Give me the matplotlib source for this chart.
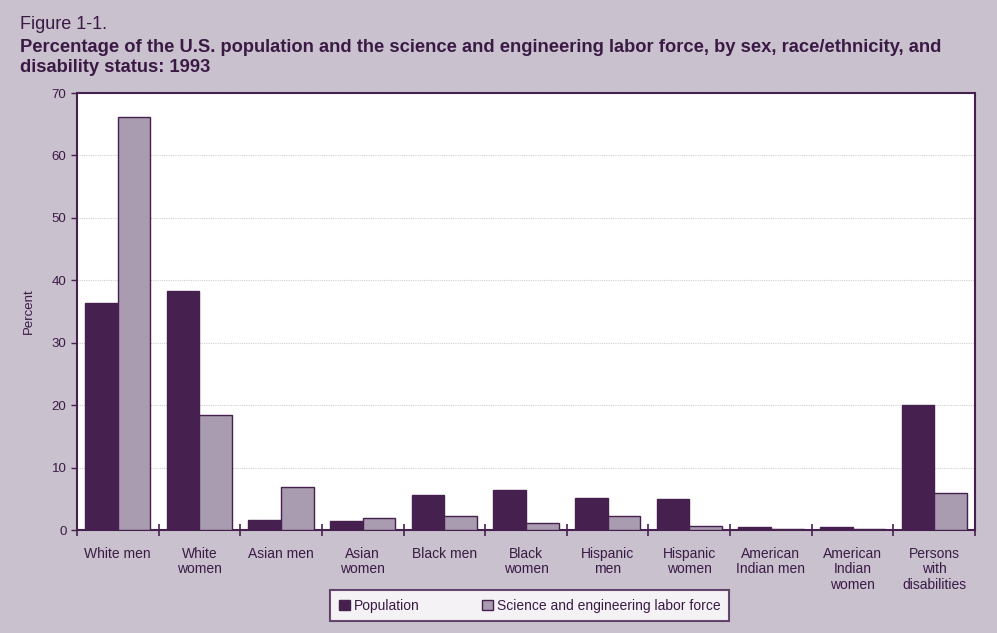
"""
Figure 1-1: share of the U.S. population and of the S&E labor force, 1993.
"""
import matplotlib
matplotlib.use("Agg")
import matplotlib.pyplot as plt
import numpy as np

categories = [
    "White men", "White\nwomen", "Asian men", "Asian\nwomen", "Black men",
    "Black\nwomen", "Hispanic\nmen", "Hispanic\nwomen", "American\nIndian men",
    "American\nIndian\nwomen", "Persons\nwith\ndisabilities",
]
population = [36.4, 38.3, 1.6, 1.5, 5.6, 6.4, 5.1, 4.9, 0.5, 0.5, 20.0]
se_labor_force = [66.2, 18.4, 6.9, 2.0, 2.2, 1.2, 2.2, 0.7, 0.2, 0.2, 5.9]
series_names = ["Population", "Science and engineering labor force"]
y_ticks = [0, 10, 20, 30, 40, 50, 60, 70]

BG = "#c9c1cd"
DARK = "#46204f"
LIGHT = "#a99cb0"
TEXT = "#3a1a45"

plt.rcParams["font.family"] = ["Liberation Sans", "DejaVu Sans"]

fig = plt.figure(figsize=(9.97, 6.33), dpi=100, facecolor=BG)
ax = fig.add_axes([0.0772, 0.1627, 0.9008, 0.6903])
ax.set_facecolor("white")

x = np.arange(len(categories))
w = 0.4
ax.bar(x - w / 2, population, w, color=DARK, edgecolor=DARK, linewidth=1,
       label=series_names[0], zorder=3)
ax.bar(x + w / 2, se_labor_force, w, color=LIGHT, edgecolor=DARK, linewidth=1,
       label=series_names[1], zorder=3)

ax.set_xlim(-0.5, len(categories) - 0.5)
ax.set_ylim(0, 70)
ax.set_yticks(y_ticks)
ax.yaxis.grid(True, color="#d0d0d0", linestyle=(0, (1, 1)), linewidth=0.8)
ax.set_axisbelow(True)

# category labels between the boundary ticks
ax.set_xticks(np.arange(len(categories) + 1) - 0.5)
ax.set_xticklabels([])
ax.set_xticks(x, minor=True)
ax.set_xticklabels(categories, minor=True, fontsize=10, color=TEXT,
                   linespacing=1.15, va="top")
ax.tick_params(axis="x", which="minor", length=0, pad=12)
ax.tick_params(axis="x", which="major", direction="inout", length=8,
               color=DARK, width=1.2)
ax.tick_params(axis="y", direction="out", length=4, color=DARK,
               labelsize=9.5, labelcolor=TEXT, width=1)

for s in ax.spines.values():
    s.set_color(DARK)
    s.set_linewidth(1.5)

ax.set_ylabel("Percent", fontsize=9.5, color=TEXT, labelpad=12)

fig.text(0.02, 0.962, "Figure 1-1.", fontsize=13, color=TEXT, va="center")
fig.text(0.02, 0.925,
         "Percentage of the U.S. population and the science and engineering "
         "labor force, by sex, race/ethnicity, and",
         fontsize=13.2, fontweight="bold", color=TEXT, va="center")
fig.text(0.02, 0.893, "disability status: 1993",
         fontsize=13.2, fontweight="bold", color=TEXT, va="center")

leg = fig.legend(loc="center", bbox_to_anchor=(0.5315, 0.043), ncol=2,
                 fontsize=10, frameon=True, fancybox=False,
                 handlelength=0.8, handleheight=0.8, handletextpad=0.3,
                 columnspacing=4.5, borderpad=0.6, borderaxespad=0)
leg.get_frame().set_edgecolor(DARK)
leg.get_frame().set_linewidth(1.5)
for t in leg.get_texts():
    t.set_color(TEXT)

fig.savefig("out.png", dpi=100, facecolor=BG)
